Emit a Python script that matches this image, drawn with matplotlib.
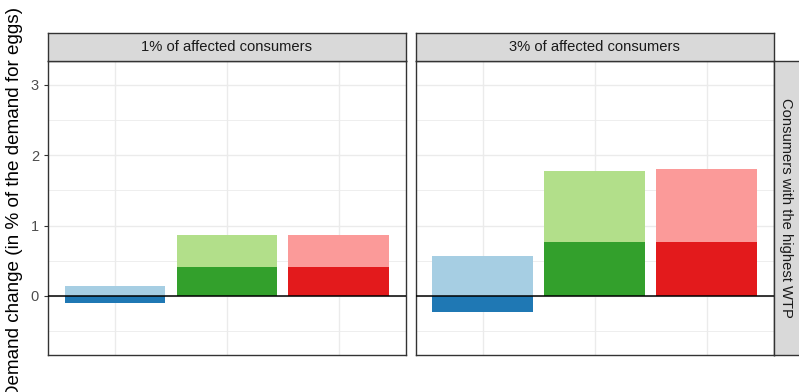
import matplotlib
matplotlib.use("Agg")
import matplotlib.pyplot as plt
import numpy as np

plt.rcParams['font.family'] = ['Liberation Sans', 'DejaVu Sans']

# Data
categories = ["Group A", "Group B", "Group C"]
panels = ["1% of affected consumers", "3% of affected consumers"]
total_change = {
    panels[0]: [0.14, 0.86, 0.86],
    panels[1]: [0.57, 1.78, 1.80],
}
partial_change = {
    panels[0]: [-0.10, 0.41, 0.41],
    panels[1]: [-0.23, 0.76, 0.76],
}
light_colors = ["#A6CEE3", "#B2DF8A", "#FB9A99"]
dark_colors = ["#1F78B4", "#33A02C", "#E31A1C"]
y_ticks = [0, 1, 2, 3]
row_label = "Consumers with the highest WTP"
y_label = "Demand change (in % of the demand for eggs)"

W, H = 799, 392
fig = plt.figure(figsize=(W / 100, H / 100), dpi=100)


def frac(x0, y0, x1, y1):
    # pixel box (top-left origin) -> figure fraction rect
    return [x0 / W, (H - y1) / H, (x1 - x0) / W, (y1 - y0) / H]


panel_x = [(48, 405.7), (415.7, 773.7)]
panel_top, panel_bot = 61, 355
strip_top = 33
border = "#333333"

x = np.arange(len(categories))
for i, name in enumerate(panels):
    x0, x1 = panel_x[i]
    ax = fig.add_axes(frac(x0, panel_top, x1, panel_bot))
    ax.set_xlim(-0.6, len(categories) - 0.4)
    ax.set_ylim(-0.84, 3.34)
    ax.set_xticks(x)
    ax.set_xticklabels([])
    ax.set_yticks(y_ticks)
    ax.set_yticks([-0.5, 0.5, 1.5, 2.5], minor=True)
    ax.grid(True, which="major", color="#EBEBEB", lw=1.0, zorder=0)
    ax.grid(True, which="minor", axis="y", color="#EBEBEB", lw=0.6, zorder=0)
    ax.set_axisbelow(True)
    ax.tick_params(axis="x", length=0)
    ax.tick_params(axis="y", which="major", length=3, color="#333333",
                   labelsize=10.5, labelcolor="#4D4D4D", pad=3.5)
    ax.tick_params(axis="y", which="minor", length=0)
    if i > 0:
        ax.tick_params(axis="y", which="major", length=0, labelleft=False)
    for s in ax.spines.values():
        s.set_color(border)
        s.set_linewidth(1.0)
    ax.bar(x, total_change[name], width=0.9, color=light_colors, zorder=2)
    ax.bar(x, partial_change[name], width=0.9, color=dark_colors, zorder=3)
    ax.axhline(0, color="black", lw=1.1, zorder=4)

    # top facet strip
    sax = fig.add_axes(frac(x0, strip_top, x1, panel_top))
    sax.set_facecolor("#D9D9D9")
    sax.set_xticks([]); sax.set_yticks([])
    for s in sax.spines.values():
        s.set_color(border)
        s.set_linewidth(1.0)
    sax.text(0.5, 0.5, name, ha="center", va="center", fontsize=10.6,
             color="#1A1A1A", transform=sax.transAxes)

# right facet strip
rax = fig.add_axes(frac(773.7, panel_top, 800.5, panel_bot))
rax.set_facecolor("#D9D9D9")
rax.set_xticks([]); rax.set_yticks([])
for s in rax.spines.values():
    s.set_color(border)
    s.set_linewidth(1.0)
rax.text(0.45, 0.5, row_label, ha="center", va="center", rotation=-90,
         fontsize=10.6, color="#1A1A1A", transform=rax.transAxes)

fig.text(15 / W, 1 - 203 / H, y_label, rotation=90, ha="center", va="center",
         fontsize=13.6, color="black")

fig.savefig("out.png", dpi=100)
